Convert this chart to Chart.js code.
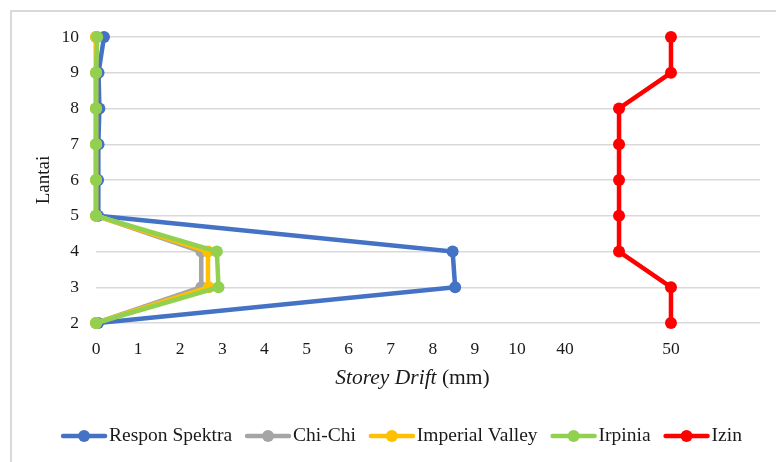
<!DOCTYPE html>
<html><head><meta charset="utf-8">
<script src="https://cdn.jsdelivr.net/npm/chart.js@4/dist/chart.umd.min.js"></script>
<style>
html,body{margin:0;padding:0;background:#fff;}
#wrap{position:relative;width:776px;height:462px;overflow:hidden;background:#fff;}
#frame{position:absolute;left:10px;top:10px;width:820px;height:520px;border:2px solid #d9d9d9;box-sizing:border-box;}
canvas{position:absolute;left:0;top:0;}
</style></head><body>
<div id="wrap"><div id="frame"></div><canvas id="c" width="776" height="462"></canvas></div>
<script>
// Data (floor levels 2..10)
const floors = [2, 3, 4, 5, 6, 7, 8, 9, 10];
const responSpektra = [0.05, 8.53, 8.47, 0.05, 0.05, 0.06, 0.08, 0.06, 0.19];
const chiChi = [0.0, 2.50, 2.50, 0.0, 0.0, 0.0, 0.0, 0.0, 0.0];
const imperialValley = [0.0, 2.68, 2.66, 0.0, 0.0, 0.0, 0.0, 0.0, 0.0];
const irpinia = [0.0, 2.91, 2.87, 0.0, 0.0, 0.0, 0.0, 0.0, 0.03];
const izin = [50, 50, 45.1, 45.1, 45.1, 45.1, 45.1, 50, 50];
const seriesNames = ['Respon Spektra', 'Chi-Chi', 'Imperial Valley', 'Irpinia', 'Izin'];
const seriesColors = ['#4472C4', '#A5A5A5', '#FFC000', '#92D050', '#FF0000'];
const xTicksMain = [0, 1, 2, 3, 4, 5, 6, 7, 8, 9, 10];
const xTicksIzin = [40, 50];
const yTicks = [2, 3, 4, 5, 6, 7, 8, 9, 10];
const xTitleItalic = 'Storey Drift';
const xTitleNormal = ' (mm)';
const yTitle = 'Lantai';

const FONT = '"Liberation Serif", "Times New Roman", serif';
const TXT = '#1a1a1a';

const seriesValues = [responSpektra, chiChi, imperialValley, irpinia, izin];
const datasets = seriesValues.map((vals, i) => ({
  label: seriesNames[i],
  data: vals.map((v, k) => ({ x: v, y: floors[k] })),
  borderColor: seriesColors[i],
  backgroundColor: seriesColors[i],
  borderWidth: 4.5,
  pointRadius: 6,
  pointHoverRadius: 6,
  pointBorderWidth: 0,
  tension: 0,
  clip: false,
  order: 5 - i,
  xAxisID: i === 4 ? 'x2' : 'x',
  yAxisID: 'y'
}));

const tickFont = { family: FONT, size: 17.5 };

const extras = {
  id: 'extras',
  afterDraw(chart) {
    const ctx = chart.ctx;
    ctx.save();
    // x axis title with italic part
    ctx.fillStyle = TXT;
    ctx.textBaseline = 'middle';
    ctx.font = 'italic 21.5px ' + FONT;
    const w1 = ctx.measureText(xTitleItalic).width;
    ctx.font = '21.5px ' + FONT;
    const w2 = ctx.measureText(xTitleNormal).width;
    let x0 = 412.5 - (w1 + w2) / 2;
    const ty = 378;
    ctx.font = 'italic 21.5px ' + FONT;
    ctx.textAlign = 'left';
    ctx.fillText(xTitleItalic, x0, ty);
    ctx.font = '21.5px ' + FONT;
    ctx.fillText(xTitleNormal, x0 + w1, ty);

    // legend
    ctx.font = '19.5px ' + FONT;
    const iconW = 46, gapIcon = 2, gapItem = 13;
    const widths = seriesNames.map(n => ctx.measureText(n).width);
    let total = 0;
    widths.forEach((w, i) => { total += iconW + gapIcon + w + (i < widths.length - 1 ? gapItem : 0); });
    let lx = 401.5 - total / 2;
    const ly = 436;
    seriesNames.forEach((n, i) => {
      ctx.strokeStyle = seriesColors[i];
      ctx.lineWidth = 4.5;
      ctx.lineCap = 'round';
      ctx.beginPath();
      ctx.moveTo(lx + 2, ly);
      ctx.lineTo(lx + iconW - 2, ly);
      ctx.stroke();
      ctx.fillStyle = seriesColors[i];
      ctx.beginPath();
      ctx.arc(lx + iconW / 2, ly, 6, 0, Math.PI * 2);
      ctx.fill();
      ctx.fillStyle = TXT;
      ctx.fillText(n, lx + iconW + gapIcon, ly);
      lx += iconW + gapIcon + widths[i] + gapItem;
    });
    ctx.restore();
  }
};

new Chart(document.getElementById('c'), {
  type: 'line',
  data: { datasets },
  options: {
    responsive: false,
    animation: false,
    devicePixelRatio: 1,
    layout: { padding: { left: 0, right: 16, top: 37, bottom: 0 } },
    plugins: { legend: { display: false }, tooltip: { enabled: false } },
    scales: {
      x: {
        type: 'linear', position: 'bottom', min: 0, max: 15.77,
        grid: { display: false, drawTicks: false },
        border: { display: false },
        afterBuildTicks: s => { s.ticks = xTicksMain.map(v => ({ value: v })); },
        ticks: { font: tickFont, color: TXT, padding: 16, autoSkip: false, maxRotation: 0 },
        afterFit: s => { s.height = 139; }
      },
      x2: {
        type: 'linear', axis: 'x', position: { y: 2 }, min: -4.25, max: 58.4,
        grid: { display: false, drawTicks: false },
        border: { display: false },
        afterBuildTicks: s => { s.ticks = xTicksIzin.map(v => ({ value: v })); },
        ticks: { font: tickFont, color: TXT, padding: 16, autoSkip: false, maxRotation: 0 }
      },
      y: {
        type: 'linear', position: 'left', min: 2, max: 10,
        afterBuildTicks: s => { s.ticks = yTicks.map(v => ({ value: v })); },
        grid: { color: '#d9d9d9', lineWidth: 1.5, drawTicks: false },
        border: { display: false },
        ticks: { font: tickFont, color: TXT, padding: 17 },
        title: { display: true, text: yTitle, font: { family: FONT, size: 19 }, color: TXT, padding: { top: 33, bottom: 0 } },
        afterFit: s => { s.width = 96; }
      }
    }
  },
  plugins: [extras]
});
</script>
</body></html>
